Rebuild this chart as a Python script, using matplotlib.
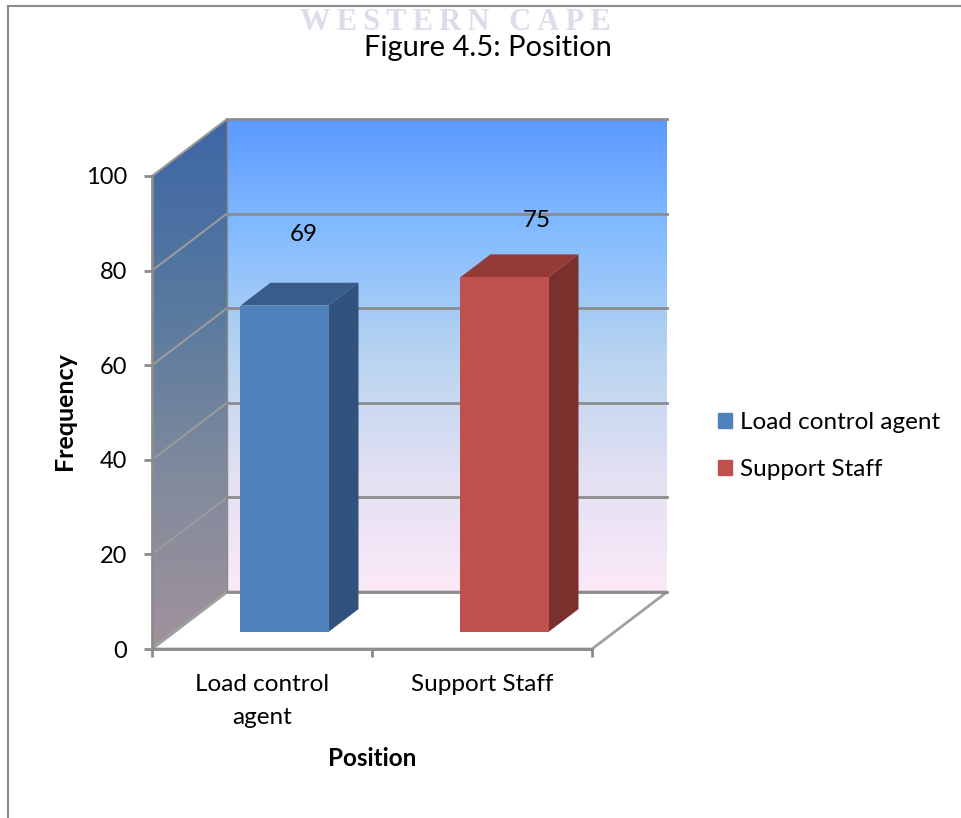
import numpy as np
import matplotlib
matplotlib.use('Agg')
import matplotlib.pyplot as plt
from matplotlib.colors import LinearSegmentedColormap
from matplotlib.lines import Line2D
from matplotlib.patches import Patch, Polygon

# Chart values
categories = ['Load control\nagent', 'Support Staff']
series_names = ['Load control agent', 'Support Staff']
values = [69, 75]
y_ticks = [0, 20, 40, 60, 80, 100]

front_colors = ['#4f81bd', '#c0504d']
side_colors = ['#30527c', '#7b302e']
top_colors = ['#385d8a', '#943a37']
label_offsets = [(19, 71), (32, 57)]

plt.rcParams['font.family'] = ['Lato', 'DejaVu Sans']

W, H = 961, 818
fig = plt.figure(figsize=(W / 100, H / 100), dpi=100)
ax = fig.add_axes([152 / W, 1 - 649 / H, 440 / W, 473 / H])
ax.set_xlim(0, 2)
ax.set_ylim(0, 100)

# Depth of the 3D box in data units
dx = 75 / 220
dy = 57 / 4.73


# Shift a point into the box, d = 0 at the front and d = 1 at the back
def project(x, y, d):
    return (x + d * dx, y + d * dy)


wall_cmap = LinearSegmentedColormap.from_list('wall', ['#fbe9f8', '#e2e0f2', '#b8d4f0', '#86bdff', '#5b9aff'])
side_cmap = LinearSegmentedColormap.from_list('side', ['#a2929c', '#7f8a9c', '#56789f', '#3d66a6'])
gradient = np.linspace(0, 1, 256).reshape(-1, 1)

# Back wall
back = ax.imshow(gradient, cmap=wall_cmap, origin='lower', aspect='auto', zorder=1,
                 extent=(dx, 2 + dx, dy, 100 + dy))
back.set_clip_on(False)

# Side wall
side_pts = [project(0, 0, 0), project(0, 0, 1), project(0, 100, 1), project(0, 100, 0)]
side = ax.imshow(gradient, cmap=side_cmap, origin='lower', aspect='auto', zorder=1,
                 extent=(0, dx, 0, 100 + dy))
side_clip = Polygon(side_pts, transform=ax.transData, facecolor='none', edgecolor='none')
ax.add_patch(side_clip)
side_clip.set_clip_on(False)
side.set_clip_path(side_clip)
side.set_clip_box(fig.bbox)

ax.set_xlim(0, 2)
ax.set_ylim(0, 100)

# Floor
floor_pts = [project(0, 0, 0), project(2, 0, 0), project(2, 0, 1), project(0, 0, 1)]
ax.add_patch(Polygon(floor_pts, facecolor='white', edgecolor='#a0a0a0', linewidth=2, zorder=2, clip_on=False))

# Gridlines on both walls
for t in y_ticks:
    if t > 0:
        x0, y0 = project(0, t, 0)
        x1, y1 = project(0, t, 1)
        ax.plot([x0, x1], [y0, y1], color='#9a9a9a', lw=1.5, zorder=3, clip_on=False)
    x1, y1 = project(0, t, 1)
    x2, y2 = project(2, t, 1)
    ax.plot([x1, x2], [y1, y2], color='#8c8c8c', lw=2, zorder=3, clip_on=False)
ax.plot([dx, dx], [dy, 100 + dy], color='#8c8c8c', lw=1, zorder=3, clip_on=False)

# Bars with a front face, a side and a top
bar_w = 0.4
for i in range(len(values)):
    v = values[i]
    left = i + 0.5 - bar_w / 2
    right = i + 0.5 + bar_w / 2
    x_front, y_front = project(i + 0.5, 0, 0.3)
    ax.bar(x_front, v, width=bar_w, bottom=y_front, color=front_colors[i], zorder=5, clip_on=False)
    side_face = [project(right, 0, 0.3), project(right, 0, 0.7), project(right, v, 0.7), project(right, v, 0.3)]
    top_face = [project(left, v, 0.3), project(right, v, 0.3), project(right, v, 0.7), project(left, v, 0.7)]
    ax.add_patch(Polygon(side_face, facecolor=side_colors[i], edgecolor='none', zorder=4, clip_on=False))
    ax.add_patch(Polygon(top_face, facecolor=top_colors[i], edgecolor='none', zorder=4, clip_on=False))
    off_x, off_y = label_offsets[i]
    ax.annotate(str(v), project(i + 0.5, v, 0.3), xytext=(off_x * 0.72, off_y * 0.72),
                textcoords='offset points', ha='center', va='center', fontsize=17.5, zorder=6,
                annotation_clip=False)

# Axes
for name in ['top', 'right']:
    ax.spines[name].set_visible(False)
for name in ['left', 'bottom']:
    ax.spines[name].set_color('#8c8c8c')
    ax.spines[name].set_linewidth(2)
    ax.spines[name].set_zorder(4)
ax.set_yticks(y_ticks)
ax.set_xticks([0, 1, 2])
ax.set_xticklabels([])
ax.set_xticks([0.5, 1.5], minor=True)
ax.set_xticklabels(categories, minor=True, fontsize=17.5, linespacing=1.7)
ax.tick_params(axis='x', which='minor', length=0, pad=18)
ax.tick_params(axis='x', which='major', length=6, width=2, color='#8c8c8c')
ax.tick_params(axis='y', length=6, width=2, color='#8c8c8c', labelsize=17, pad=12)
ax.set_ylabel('Frequency', fontsize=18, fontweight='bold')
ax.yaxis.set_label_coords(-76 / 440, 1 - (411 - 176) / 473)
ax.set_xlabel('Position', fontsize=17.5, fontweight='bold', labelpad=14)

fig.suptitle('Figure 4.5: Position', x=488 / W, y=1 - 48 / H, va='center', fontsize=21, zorder=6)

# Scanned page leftovers behind the chart
watermark = '\u2009'.join('WESTERN') + '\u2009 \u2009' + '\u2009'.join('CAPE')
fig.text(455 / W, 1 - 23 / H, watermark, family='Liberation Serif', fontweight='bold',
         fontsize=22, color='#dcdcea', ha='center', va='center', zorder=0)
fig.add_artist(Line2D([7.5 / W, 7.5 / W], [0, 1 - 6 / H], color='#8c8c8c', lw=1.5))
fig.add_artist(Line2D([7.5 / W, 1], [1 - 6 / H, 1 - 6 / H], color='#8c8c8c', lw=1.5))

handles = [Patch(color=c) for c in front_colors]
fig.legend(handles, series_names, loc='center left', bbox_to_anchor=(696 / W, 1 - 446 / H), frameon=False,
           fontsize=17.5, handlelength=0.58, handleheight=0.58, handletextpad=0.33, labelspacing=1.07)

fig.savefig('out.png', dpi=100)
